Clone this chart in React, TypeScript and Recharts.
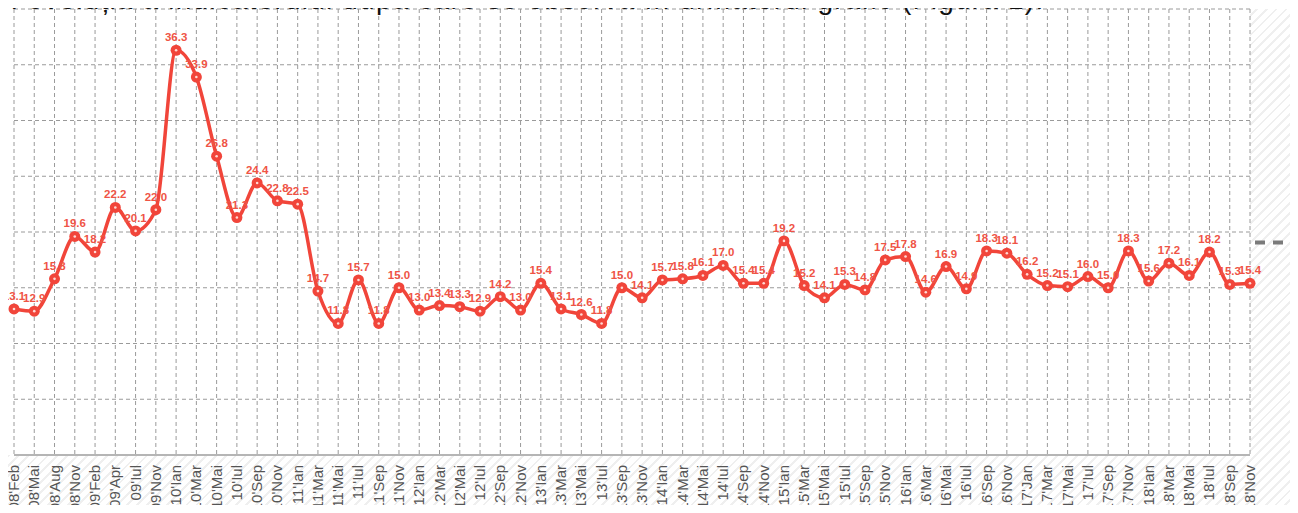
import { CartesianGrid, LabelList, Line, LineChart, XAxis, YAxis } from "recharts";

const months = [
  "08'Feb", "08'Mai", "08'Aug", "08'Nov",
  "09'Feb", "09'Apr", "09'Iul", "09'Nov",
  "10'Ian", "10'Mar", "10'Mai", "10'Iul", "10'Sep", "10'Nov",
  "11'Ian", "11'Mar", "11'Mai", "11'Iul", "11'Sep", "11'Nov",
  "12'Ian", "12'Mar", "12'Mai", "12'Iul", "12'Sep", "12'Nov",
  "13'Ian", "13'Mar", "13'Mai", "13'Iul", "13'Sep", "13'Nov",
  "14'Ian", "14'Mar", "14'Mai", "14'Iul", "14'Sep", "14'Nov",
  "15'Ian", "15'Mar", "15'Mai", "15'Iul", "15'Sep", "15'Nov",
  "16'Ian", "16'Mar", "16'Mai", "16'Iul", "16'Sep", "16'Nov",
  "17'Jan", "17'Mar", "17'Mai", "17'Iul", "17'Sep", "17'Nov",
  "18'Ian", "18'Mar", "18'Mai", "18'Iul", "18'Sep", "18'Nov",
];

const values = [
  13.1, 12.9, 15.8, 19.6,
  18.2, 22.2, 20.1, 22.0,
  36.3, 33.9, 26.8, 21.3, 24.4, 22.8,
  22.5, 14.7, 11.8, 15.7, 11.8, 15.0,
  13.0, 13.4, 13.3, 12.9, 14.2, 13.0,
  15.4, 13.1, 12.6, 11.8, 15.0, 14.1,
  15.7, 15.8, 16.1, 17.0, 15.4, 15.4,
  19.2, 15.2, 14.1, 15.3, 14.8, 17.5,
  17.8, 14.6, 16.9, 14.9, 18.3, 18.1,
  16.2, 15.2, 15.1, 16.0, 15.0, 18.3,
  15.6, 17.2, 16.1, 18.2, 15.3, 15.4,
];

const yTicks = [0, 5, 10, 15, 20, 25, 30, 35, 40];

const data = months.map((m, i) => ({ month: m, value: values[i] }));

const RED = "#f1453a";

function MonthTick(props: any) {
  const { x, y, payload } = props;
  return (
    <text
      x={x + 5}
      y={y + 2}
      transform={`rotate(-90, ${x + 5}, ${y + 2})`}
      textAnchor="end"
      fill="#555"
      fontSize={15}
      fontFamily="'Liberation Sans', Arial, sans-serif"
    >
      {payload.value}
    </text>
  );
}

function RingDot(props: any) {
  const { cx, cy, index } = props;
  return (
    <g key={`dot-${index}`}>
      <circle cx={cx} cy={cy} r={5.5} fill={RED} />
      <circle cx={cx} cy={cy} r={1.3} fill="#ffd9d4" />
    </g>
  );
}

export default function App() {
  return (
    <div
      style={{
        position: "relative",
        margin: -8,
        width: 1298,
        height: 513,
        overflow: "hidden",
        background:
          "repeating-linear-gradient(135deg, #ffffff 0px, #ffffff 5px, #efefef 5px, #efefef 7px)",
      }}
    >
      <div style={{ position: "absolute", left: 0, top: 0, width: 1298, height: 9, background: "#fff" }} />
      <div style={{ position: "absolute", left: 0, top: 9, width: 14, height: 446, background: "#fff" }} />
      <svg style={{ position: "absolute", left: 1255, top: 240 }} width={43} height={5}>
        <line x1={0} y1={2.5} x2={43} y2={2.5} stroke="#7a7a7a" strokeWidth={4} strokeDasharray="10 8" />
      </svg>
      <div style={{ position: "absolute", left: 0, top: 0 }}>
        <LineChart
          width={1298}
          height={513}
          data={data}
          margin={{ top: 9, right: 48, bottom: 0, left: 14 }}
        >
          <CartesianGrid
            stroke="#9a9a9a"
            strokeDasharray="4 3"
            fill="#ffffff"
            fillOpacity={1}
          />
          <XAxis
            dataKey="month"
            interval={0}
            height={58}
            tick={<MonthTick />}
            tickLine={false}
            axisLine={{ stroke: "#b5b5b5", strokeWidth: 2 }}
          />
          <YAxis hide domain={[0, 40]} ticks={yTicks} />
          <Line
            type="monotone"
            dataKey="value"
            stroke={RED}
            strokeWidth={3.5}
            dot={<RingDot />}
            activeDot={false}
            isAnimationActive={false}
          >
            <LabelList
              dataKey="value"
              position="top"
              offset={9}
              fill="#ef5446"
              fontSize={11.5}
              fontWeight="bold"
              fontFamily="'Liberation Sans', Arial, sans-serif"
              formatter={(v: any) => Number(v).toFixed(1)}
            />
          </Line>
        </LineChart>
      </div>
      <div
        style={{
          position: "absolute",
          left: -6,
          top: -15,
          zIndex: 2,
          fontFamily: "'Liberation Sans', Arial, sans-serif",
          fontSize: 28,
          lineHeight: "30px",
          letterSpacing: 1.2,
          color: "#111",
          whiteSpace: "nowrap",
        }}
      >
        m evoluția a indicatorului după care se observă în următorul grafic (Figura 1).
      </div>
    </div>
  );
}
